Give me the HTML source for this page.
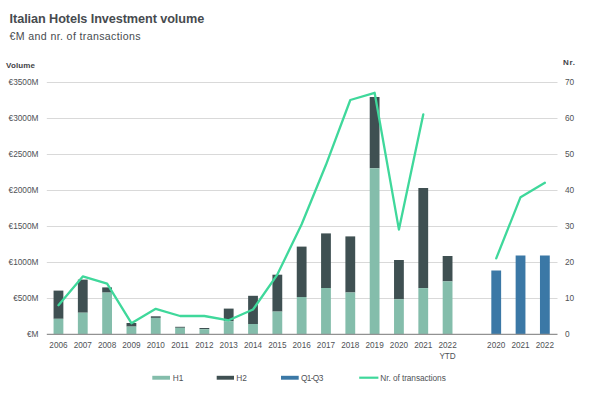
<!DOCTYPE html>
<html><head><meta charset="utf-8"><style>
html,body{margin:0;padding:0;background:#fff;width:600px;height:402px;overflow:hidden}
svg text{font-family:"Liberation Sans",sans-serif}
#w{width:600px;height:402px}
</style></head><body>
<div id="w"><svg width="600" height="402" viewBox="0 0 600 402" style="display:block">
<rect width="600" height="402" fill="#fff"/>
<text x="9.6" y="22.8" font-size="12.7" font-weight="bold" fill="#474b4f" textLength="194.6" lengthAdjust="spacing">Italian Hotels Investment volume</text>
<text x="9.6" y="40.0" font-size="10.6" fill="#474b4f" textLength="131" lengthAdjust="spacing">€M and nr. of transactions</text>
<text x="6" y="68.2" font-size="8" font-weight="bold" fill="#3f4347" textLength="29" lengthAdjust="spacing">Volume</text>
<text x="563" y="64.8" font-size="8" font-weight="bold" fill="#3f4347" textLength="12" lengthAdjust="spacing">Nr.</text>
<line x1="46.8" y1="298.5" x2="557.5" y2="298.5" stroke="#d9d9d9" stroke-width="1"/>
<text x="38.5" y="301.0" font-size="8.3" fill="#4f5256" text-anchor="end">€500M</text>
<text x="565" y="301.0" font-size="8.3" fill="#4f5256">10</text>
<line x1="46.8" y1="262.5" x2="557.5" y2="262.5" stroke="#d9d9d9" stroke-width="1"/>
<text x="38.5" y="265.0" font-size="8.3" fill="#4f5256" text-anchor="end">€1000M</text>
<text x="565" y="265.0" font-size="8.3" fill="#4f5256">20</text>
<line x1="46.8" y1="226.5" x2="557.5" y2="226.5" stroke="#d9d9d9" stroke-width="1"/>
<text x="38.5" y="229.0" font-size="8.3" fill="#4f5256" text-anchor="end">€1500M</text>
<text x="565" y="229.0" font-size="8.3" fill="#4f5256">30</text>
<line x1="46.8" y1="190.5" x2="557.5" y2="190.5" stroke="#d9d9d9" stroke-width="1"/>
<text x="38.5" y="193.0" font-size="8.3" fill="#4f5256" text-anchor="end">€2000M</text>
<text x="565" y="193.0" font-size="8.3" fill="#4f5256">40</text>
<line x1="46.8" y1="154.5" x2="557.5" y2="154.5" stroke="#d9d9d9" stroke-width="1"/>
<text x="38.5" y="157.0" font-size="8.3" fill="#4f5256" text-anchor="end">€2500M</text>
<text x="565" y="157.0" font-size="8.3" fill="#4f5256">50</text>
<line x1="46.8" y1="118.5" x2="557.5" y2="118.5" stroke="#d9d9d9" stroke-width="1"/>
<text x="38.5" y="121.0" font-size="8.3" fill="#4f5256" text-anchor="end">€3000M</text>
<text x="565" y="121.0" font-size="8.3" fill="#4f5256">60</text>
<line x1="46.8" y1="82.5" x2="557.5" y2="82.5" stroke="#d9d9d9" stroke-width="1"/>
<text x="38.5" y="85.0" font-size="8.3" fill="#4f5256" text-anchor="end">€3500M</text>
<text x="565" y="85.0" font-size="8.3" fill="#4f5256">70</text>
<text x="38.5" y="337.0" font-size="8.3" fill="#4f5256" text-anchor="end">€M</text>
<text x="565" y="337.0" font-size="8.3" fill="#4f5256">0</text>
<rect x="53.56" y="290.6" width="9.8" height="28.20" fill="#3f5052"/>
<rect x="53.56" y="318.8" width="9.8" height="15.20" fill="#84bdab"/>
<rect x="77.88" y="279.6" width="9.8" height="33.10" fill="#3f5052"/>
<rect x="77.88" y="312.7" width="9.8" height="21.30" fill="#84bdab"/>
<rect x="102.20" y="287.4" width="9.8" height="5.20" fill="#3f5052"/>
<rect x="102.20" y="292.6" width="9.8" height="41.40" fill="#84bdab"/>
<rect x="126.52" y="323" width="9.8" height="3.60" fill="#3f5052"/>
<rect x="126.52" y="326.6" width="9.8" height="7.40" fill="#84bdab"/>
<rect x="150.84" y="316.3" width="9.8" height="1.60" fill="#3f5052"/>
<rect x="150.84" y="317.9" width="9.8" height="16.10" fill="#84bdab"/>
<rect x="175.16" y="326.8" width="9.8" height="1.00" fill="#3f5052"/>
<rect x="175.16" y="327.8" width="9.8" height="6.20" fill="#84bdab"/>
<rect x="199.48" y="328" width="9.8" height="1.20" fill="#3f5052"/>
<rect x="199.48" y="329.2" width="9.8" height="4.80" fill="#84bdab"/>
<rect x="223.80" y="308.6" width="9.8" height="12.60" fill="#3f5052"/>
<rect x="223.80" y="321.2" width="9.8" height="12.80" fill="#84bdab"/>
<rect x="248.12" y="295.8" width="9.8" height="28.20" fill="#3f5052"/>
<rect x="248.12" y="324" width="9.8" height="10.00" fill="#84bdab"/>
<rect x="272.44" y="274.7" width="9.8" height="36.90" fill="#3f5052"/>
<rect x="272.44" y="311.6" width="9.8" height="22.40" fill="#84bdab"/>
<rect x="296.76" y="246.6" width="9.8" height="50.40" fill="#3f5052"/>
<rect x="296.76" y="297" width="9.8" height="37.00" fill="#84bdab"/>
<rect x="321.08" y="233.4" width="9.8" height="54.60" fill="#3f5052"/>
<rect x="321.08" y="288" width="9.8" height="46.00" fill="#84bdab"/>
<rect x="345.40" y="236.4" width="9.8" height="56.10" fill="#3f5052"/>
<rect x="345.40" y="292.5" width="9.8" height="41.50" fill="#84bdab"/>
<rect x="369.72" y="97" width="9.8" height="71.30" fill="#3f5052"/>
<rect x="369.72" y="168.3" width="9.8" height="165.70" fill="#84bdab"/>
<rect x="394.04" y="260" width="9.8" height="39.30" fill="#3f5052"/>
<rect x="394.04" y="299.3" width="9.8" height="34.70" fill="#84bdab"/>
<rect x="418.36" y="188" width="9.8" height="100.10" fill="#3f5052"/>
<rect x="418.36" y="288.1" width="9.8" height="45.90" fill="#84bdab"/>
<rect x="442.68" y="256" width="9.8" height="25.40" fill="#3f5052"/>
<rect x="442.68" y="281.4" width="9.8" height="52.60" fill="#84bdab"/>
<rect x="491.32" y="270.5" width="9.8" height="63.50" fill="#3b78a6"/>
<rect x="515.64" y="255.5" width="9.8" height="78.50" fill="#3b78a6"/>
<rect x="539.96" y="255.5" width="9.8" height="78.50" fill="#3b78a6"/>
<line x1="46.8" y1="334.35" x2="557.5" y2="334.35" stroke="#929292" stroke-width="1.3"/>
<polyline points="58.46,305.20 82.78,276.40 107.10,283.60 131.42,323.20 155.74,308.80 180.06,316.00 204.38,316.00 228.70,320.32 253.02,309.52 277.34,274.60 301.66,224.20 325.98,164.80 350.30,100.00 374.62,92.80 398.94,229.60 423.26,114.40" fill="none" stroke="#3fd89b" stroke-width="2.3" stroke-linejoin="round" stroke-linecap="round"/>
<polyline points="496.22,258.40 520.54,197.20 544.86,182.80" fill="none" stroke="#3fd89b" stroke-width="2.3" stroke-linejoin="round" stroke-linecap="round"/>
<text x="58.46" y="348" font-size="8.2" fill="#4f5256" text-anchor="middle">2006</text>
<text x="82.78" y="348" font-size="8.2" fill="#4f5256" text-anchor="middle">2007</text>
<text x="107.10" y="348" font-size="8.2" fill="#4f5256" text-anchor="middle">2008</text>
<text x="131.42" y="348" font-size="8.2" fill="#4f5256" text-anchor="middle">2009</text>
<text x="155.74" y="348" font-size="8.2" fill="#4f5256" text-anchor="middle">2010</text>
<text x="180.06" y="348" font-size="8.2" fill="#4f5256" text-anchor="middle">2011</text>
<text x="204.38" y="348" font-size="8.2" fill="#4f5256" text-anchor="middle">2012</text>
<text x="228.70" y="348" font-size="8.2" fill="#4f5256" text-anchor="middle">2013</text>
<text x="253.02" y="348" font-size="8.2" fill="#4f5256" text-anchor="middle">2014</text>
<text x="277.34" y="348" font-size="8.2" fill="#4f5256" text-anchor="middle">2015</text>
<text x="301.66" y="348" font-size="8.2" fill="#4f5256" text-anchor="middle">2016</text>
<text x="325.98" y="348" font-size="8.2" fill="#4f5256" text-anchor="middle">2017</text>
<text x="350.30" y="348" font-size="8.2" fill="#4f5256" text-anchor="middle">2018</text>
<text x="374.62" y="348" font-size="8.2" fill="#4f5256" text-anchor="middle">2019</text>
<text x="398.94" y="348" font-size="8.2" fill="#4f5256" text-anchor="middle">2020</text>
<text x="423.26" y="348" font-size="8.2" fill="#4f5256" text-anchor="middle">2021</text>
<text x="447.58" y="348" font-size="8.2" fill="#4f5256" text-anchor="middle">2022</text>
<text x="496.22" y="348" font-size="8.2" fill="#4f5256" text-anchor="middle">2020</text>
<text x="520.54" y="348" font-size="8.2" fill="#4f5256" text-anchor="middle">2021</text>
<text x="544.86" y="348" font-size="8.2" fill="#4f5256" text-anchor="middle">2022</text>
<text x="447.58" y="358.5" font-size="8.2" fill="#4f5256" text-anchor="middle">YTD</text>
<rect x="152.3" y="375.8" width="17.7" height="3.9" fill="#84bdab"/>
<text x="172.7" y="380.9" font-size="8.3" fill="#4f5256">H1</text>
<rect x="216.7" y="375.8" width="17.3" height="3.9" fill="#3f5052"/>
<text x="236.2" y="380.9" font-size="8.3" fill="#4f5256">H2</text>
<rect x="281" y="375.8" width="17.7" height="3.9" fill="#3b78a6"/>
<text x="301" y="380.9" font-size="8.3" fill="#4f5256" textLength="22.3" lengthAdjust="spacing">Q1-Q3</text>
<line x1="359.2" y1="377.7" x2="378.4" y2="377.7" stroke="#3fd89b" stroke-width="2.2"/>
<text x="380.3" y="380.9" font-size="8.3" fill="#4f5256" textLength="65.5" lengthAdjust="spacing">Nr. of transactions</text>
</svg></div>
</body></html>
